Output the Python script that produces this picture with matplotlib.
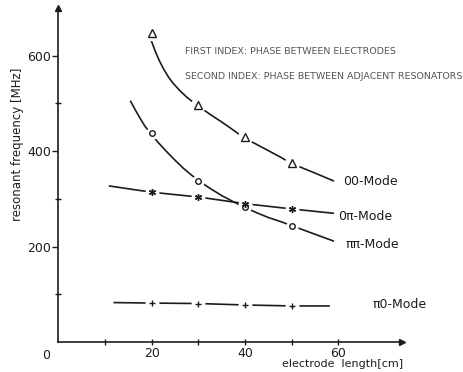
import matplotlib
matplotlib.use("Agg")
import matplotlib.pyplot as plt

# measured points (electrode length in cm, resonant frequency in MHz)
meas_x = [20, 30, 40, 50]
mode_00 = [648, 497, 429, 375]
mode_pipi = [439, 338, 283, 244]
mode_0pi = [314, 304, 290, 279]
mode_pi0 = [82, 81, 78, 76]

# hand drawn curves
curve_00_x = [19.6, 20.6, 21.6, 22.6, 23.6, 24.6, 26, 27.5, 29.6, 32.5, 35, 37.5,
              39.6, 42.5, 45, 47.5, 49.8, 52.5, 55, 58.9]
curve_00_y = [640, 613, 590, 571, 555, 542, 527, 513, 497, 477, 461, 444,
              429, 414, 401, 388, 375, 364, 354, 338]
curve_pipi_x = [15.5, 16.5, 17.5, 18.5, 19.6, 21.4, 23.2, 25, 26.8, 28.5, 30.1,
                32.5, 35, 37.5, 39.8, 42.5, 45, 47.5, 50, 52.5, 55, 58.9]
curve_pipi_y = [504, 486, 469, 453, 439, 418, 399, 381, 364, 350, 338,
                322, 307, 294, 283, 271, 261, 253, 244, 235, 226, 212]
curve_0pi_x = [11, 20, 30, 40, 50, 58.9]
curve_0pi_y = [327, 314, 304, 290, 279, 270]
curve_pi0_x = [12, 20, 30, 40, 50, 58]
curve_pi0_y = [83, 82, 81, 78, 76, 76]

ink = "#1c1c1c"

fig = plt.figure(figsize=(4.63, 3.72), dpi=100)
ax = fig.add_axes([0.126, 0.080, 0.742, 0.899])
ax.set_xlim(0, 73.6)
ax.set_ylim(0, 700)

for s in ["top", "right"]:
    ax.spines[s].set_visible(False)
for s in ["left", "bottom"]:
    ax.spines[s].set_color(ink)
    ax.spines[s].set_linewidth(1.2)

# arrow heads at the axis ends
ax.plot(1, 0, ">", color=ink, ms=5, transform=ax.transAxes, clip_on=False)
ax.plot(0, 1, "^", color=ink, ms=5, transform=ax.transAxes, clip_on=False)

ax.set_xticks([20, 40, 60])
ax.set_xticks([10, 30, 50], minor=True)
ax.set_yticks([200, 400, 600])
ax.set_yticks([100, 300, 500], minor=True)
ax.tick_params(which="both", direction="inout", length=5, width=1, colors=ink,
               labelsize=9, pad=1)
ax.tick_params(axis="y", which="major", direction="out", length=4, pad=1)
ax.text(-1.8, -14, "0", ha="right", va="top", fontsize=9, color=ink)

# curves with gaps left around the markers
curves = [
    (curve_00_x, curve_00_y, mode_00, "^", 6),
    (curve_pipi_x, curve_pipi_y, mode_pipi, "o", 4),
    (curve_0pi_x, curve_0pi_y, mode_0pi, (6, 2, 0), 5),
    (curve_pi0_x, curve_pi0_y, mode_pi0, "+", 5),
]
for cx, cy, my, mk, size in curves:
    ax.plot(cx, cy, color=ink, lw=1.2, zorder=2)
    ax.plot(meas_x, my, "o", ms=size + 4, mfc="white", mec="white", zorder=3)
    ax.plot(meas_x, my, linestyle="none", marker=mk, ms=size, mfc="white",
            mec=ink, mew=1.0, zorder=4)

ax.text(61, 336, "00-Mode", fontsize=9, color=ink, va="center")
ax.text(59.9, 263, "0\u03c0-Mode", fontsize=9, color=ink, va="center")
ax.text(61.6, 204, "\u03c0\u03c0-Mode", fontsize=9, color=ink, va="center")
ax.text(67.4, 78, "\u03c00-Mode", fontsize=9, color=ink, va="center")

ax.text(27.1, 608, "FIRST INDEX: PHASE BETWEEN ELECTRODES", fontsize=6.8,
        color="#555555", va="center")
ax.text(27.1, 557, "SECOND INDEX: PHASE BETWEEN ADJACENT RESONATORS", fontsize=6.8,
        color="#555555", va="center")

fig.text(0.037, 0.613, "resonant frequency [MHz]", rotation=90, fontsize=8.5,
         color=ink, ha="center", va="center")
fig.text(0.739, 0.022, "electrode  length[cm]", fontsize=8, color=ink,
         ha="center", va="center")

fig.savefig("out.png", dpi=100)
